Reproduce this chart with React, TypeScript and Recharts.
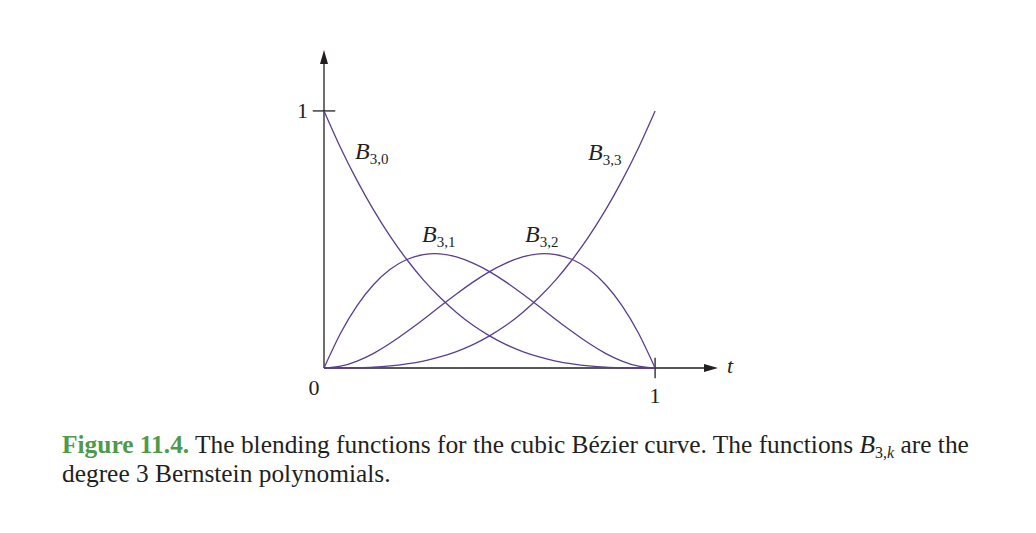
import { LineChart, Line, XAxis, YAxis, ReferenceLine } from 'recharts';

// t samples and the four cubic Bernstein blending functions
const tValues = [0, 0.05, 0.1, 0.15, 0.2, 0.25, 0.3, 0.35, 0.4, 0.45, 0.5, 0.55, 0.6, 0.65, 0.7, 0.75, 0.8, 0.85, 0.9, 0.95, 1];
const b30 = [1, 0.857, 0.729, 0.614, 0.512, 0.422, 0.343, 0.275, 0.216, 0.166, 0.125, 0.091, 0.064, 0.043, 0.027, 0.016, 0.008, 0.003, 0.001, 0, 0];
const b31 = [0, 0.135, 0.243, 0.325, 0.384, 0.422, 0.441, 0.444, 0.432, 0.408, 0.375, 0.334, 0.288, 0.239, 0.189, 0.141, 0.096, 0.057, 0.027, 0.007, 0];
const b32 = [0, 0.007, 0.027, 0.057, 0.096, 0.141, 0.189, 0.239, 0.288, 0.334, 0.375, 0.408, 0.432, 0.444, 0.441, 0.422, 0.384, 0.325, 0.243, 0.135, 0];
const b33 = [0, 0, 0.001, 0.003, 0.008, 0.016, 0.027, 0.043, 0.064, 0.091, 0.125, 0.166, 0.216, 0.275, 0.343, 0.422, 0.512, 0.614, 0.729, 0.857, 1];

const rows = tValues.map((t, i) => ({ t, b30: b30[i], b31: b31[i], b32: b32[i], b33: b33[i] }));

const CURVE = '#5b3d8e';
const AXIS = '#231f20';
const SERIF = '"Liberation Serif", "Times New Roman", serif';

const Arrow = (props: any) => {
  const { x1, y1, x2, y2 } = props;
  const dx = x2 - x1;
  const dy = y2 - y1;
  const len = Math.sqrt(dx * dx + dy * dy) || 1;
  const ux = dx / len;
  const uy = dy / len;
  const bx = x2 - ux * 14;
  const by = y2 - uy * 14;
  const pts = `${x2},${y2} ${bx - uy * 4},${by + ux * 4} ${bx + uy * 4},${by - ux * 4}`;
  return (
    <g>
      <line x1={x1} y1={y1} x2={bx + ux * 2} y2={by + uy * 2} stroke={AXIS} strokeWidth={1.3} />
      <polygon points={pts} fill={AXIS} />
    </g>
  );
};

const BLabel = ({ x, y, sub }: { x: number; y: number; sub: string }) => (
  <text x={x} y={y} fontFamily={SERIF} fill={AXIS}>
    <tspan fontStyle="italic" fontSize={24}>B</tspan>
    <tspan fontSize={15} dy={5}>{sub}</tspan>
  </text>
);

export default function App() {
  return (
    <div style={{ position: 'absolute', left: 0, top: 0, width: 1036, height: 533, background: '#fff' }}>
      <LineChart
        width={1036}
        height={533}
        data={rows}
        margin={{ top: 50, right: 318, bottom: 165, left: 324 }}
      >
        <XAxis dataKey="t" type="number" domain={[0, 1.19]} hide />
        <YAxis type="number" domain={[0, 1.237]} hide />
        <ReferenceLine segment={[{ x: 0, y: 0 }, { x: 1.19, y: 0 }]} shape={Arrow} ifOverflow="visible" />
        <ReferenceLine segment={[{ x: 0, y: 0 }, { x: 0, y: 1.237 }]} shape={Arrow} ifOverflow="visible" />
        <ReferenceLine segment={[{ x: -0.034, y: 1 }, { x: 0.034, y: 1 }]} stroke={AXIS} strokeWidth={1.3} ifOverflow="visible" />
        <ReferenceLine segment={[{ x: 1, y: -0.04 }, { x: 1, y: 0.04 }]} stroke={AXIS} strokeWidth={1.3} ifOverflow="visible" />
        <Line dataKey="b30" type="natural" stroke={CURVE} strokeWidth={1.3} dot={false} isAnimationActive={false} />
        <Line dataKey="b31" type="natural" stroke={CURVE} strokeWidth={1.3} dot={false} isAnimationActive={false} />
        <Line dataKey="b32" type="natural" stroke={CURVE} strokeWidth={1.3} dot={false} isAnimationActive={false} />
        <Line dataKey="b33" type="natural" stroke={CURVE} strokeWidth={1.3} dot={false} isAnimationActive={false} />
      </LineChart>
      <svg width={1036} height={533} style={{ position: 'absolute', left: 0, top: 0, pointerEvents: 'none' }}>
        <text x={308} y={118} textAnchor="end" fontFamily={SERIF} fontSize={22} fill={AXIS}>1</text>
        <text x={314} y={395} textAnchor="middle" fontFamily={SERIF} fontSize={22} fill={AXIS}>0</text>
        <text x={655} y={403} textAnchor="middle" fontFamily={SERIF} fontSize={22} fill={AXIS}>1</text>
        <text x={727} y={373} fontFamily={SERIF} fontSize={22} fontStyle="italic" fill={AXIS}>t</text>
        <BLabel x={355} y={159} sub="3,0" />
        <BLabel x={422} y={242} sub="3,1" />
        <BLabel x={525} y={242} sub="3,2" />
        <BLabel x={588} y={160} sub="3,3" />
        <text x={62} y={453} fontFamily={SERIF} fontSize={25.4} fill={AXIS}>
          <tspan fill="#4f9a4a" fontWeight="bold">Figure 11.4.</tspan>
          <tspan> The blending functions for the cubic Bézier curve. The functions </tspan>
          <tspan fontStyle="italic">B</tspan>
          <tspan fontSize={16} dy={5}>3,</tspan>
          <tspan fontSize={16} fontStyle="italic">k</tspan>
          <tspan dy={-5}> are the</tspan>
        </text>
        <text x={62} y={482} fontFamily={SERIF} fontSize={25.4} fill={AXIS}>degree 3 Bernstein polynomials.</text>
      </svg>
    </div>
  );
}
